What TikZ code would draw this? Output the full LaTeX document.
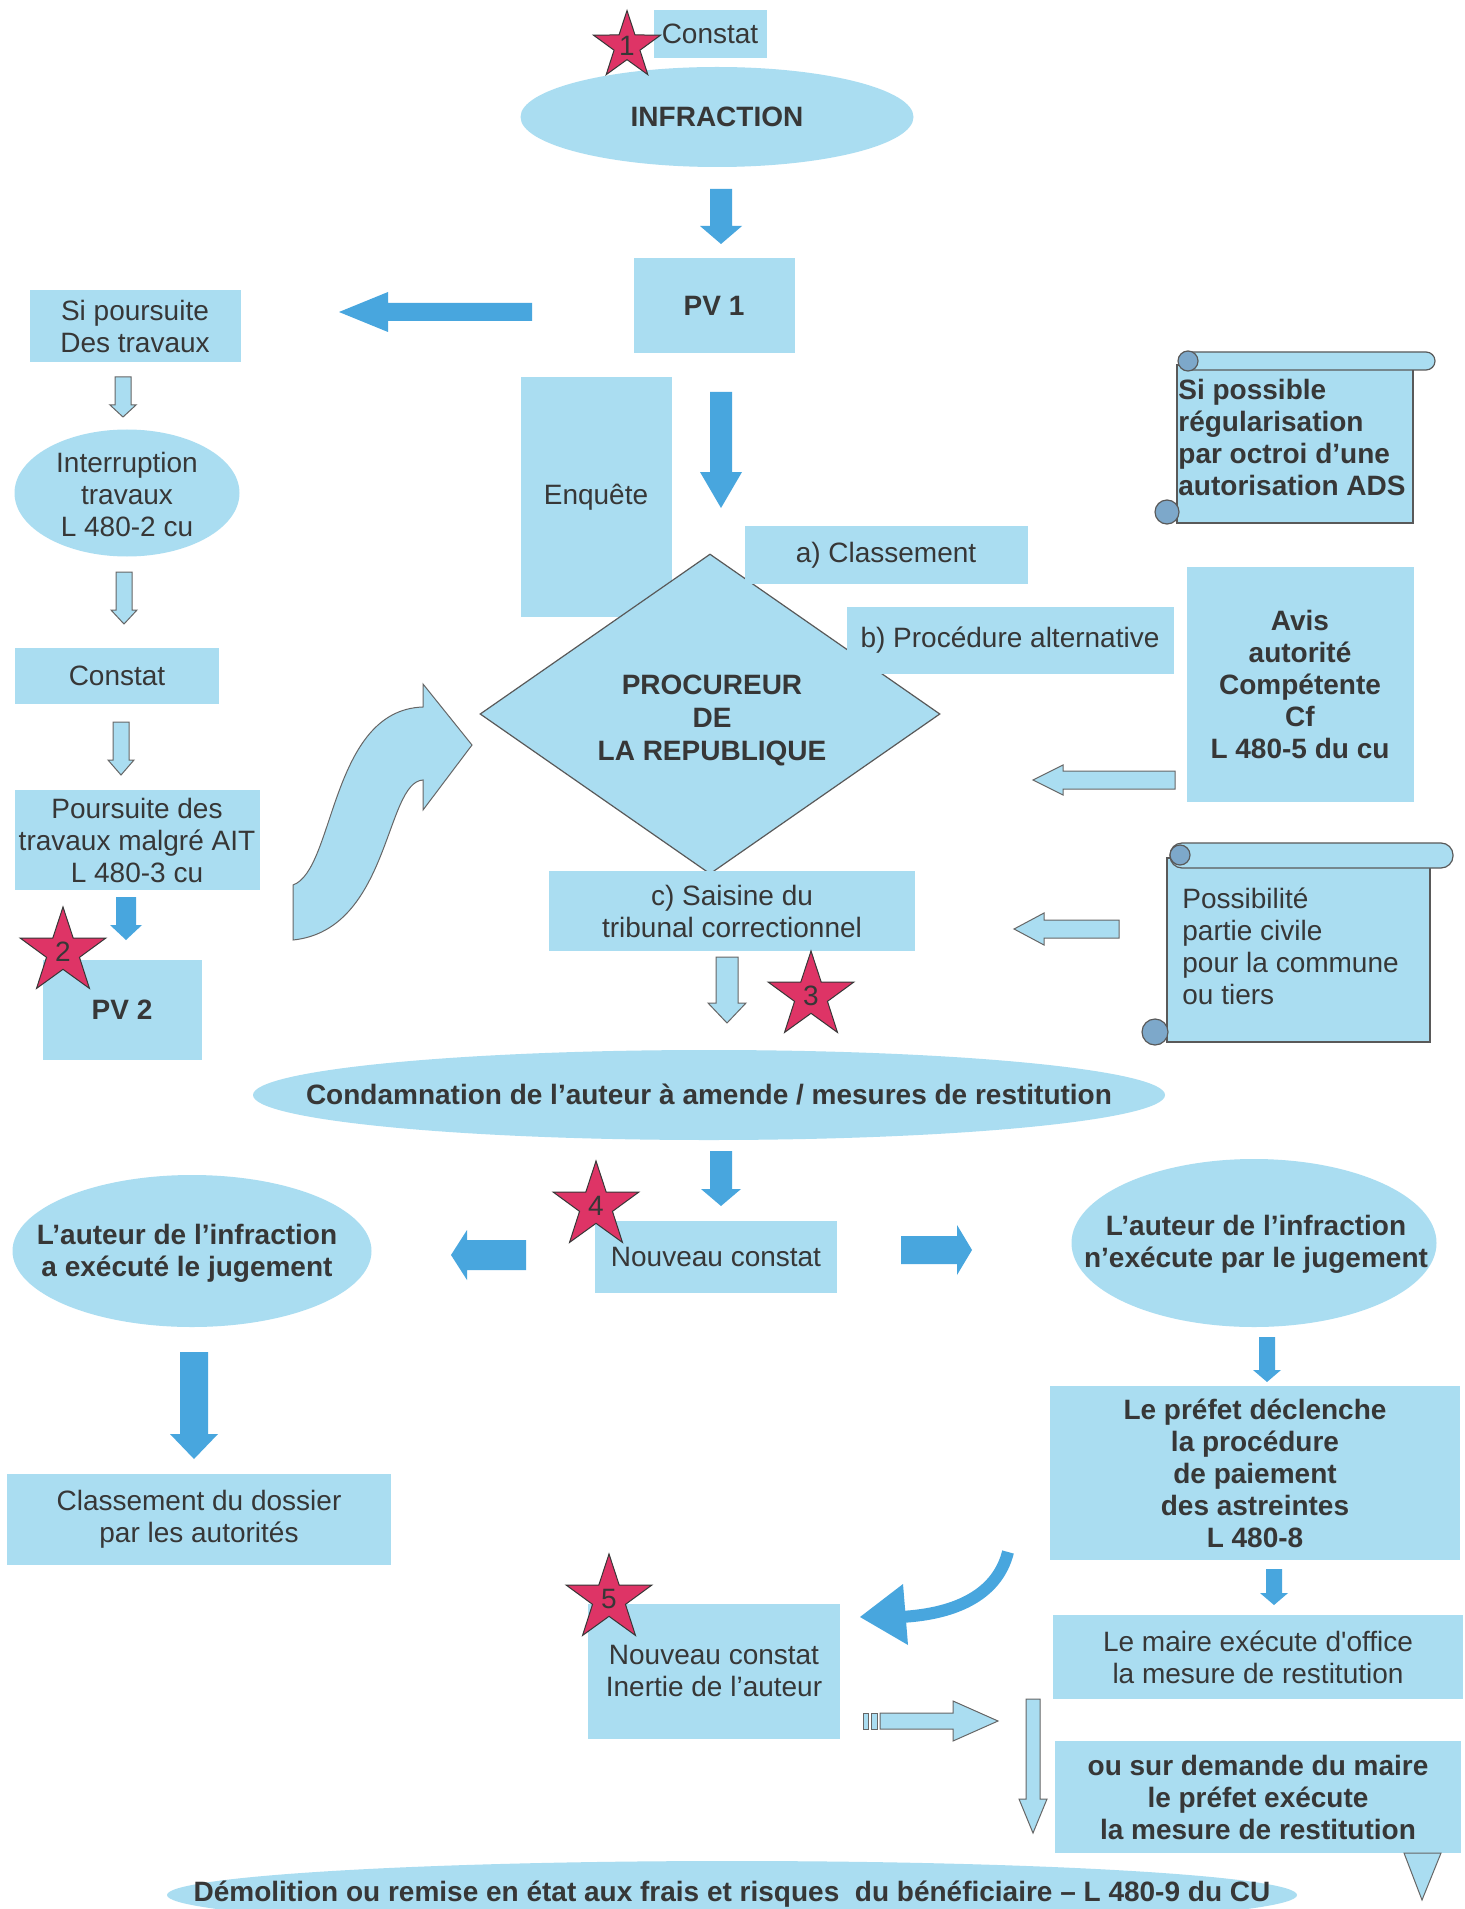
\documentclass[tikz,border=0pt]{standalone}
\usepackage{fontspec}
\setmainfont{Liberation Sans}
\usetikzlibrary{positioning}
\usetikzlibrary{shapes}

\definecolor{paleblue}{RGB}{170,221,241}
\definecolor{deepblue}{RGB}{72,166,222}
\definecolor{inkgray}{RGB}{55,55,55}
\definecolor{starred}{RGB}{222,52,102}
\definecolor{curlblue}{RGB}{125,168,202}

\tikzset{
  panel/.style={rectangle, fill=paleblue, inner sep=0pt, align=center, text=inkgray, font=\fontsize{14}{16}\selectfont},
  panelb/.style={panel, font=\fontsize{14}{16}\selectfont\bfseries},
  bubble/.style={ellipse, fill=paleblue, inner sep=0pt},
  txt/.style={align=center, text=inkgray, inner sep=0pt, font=\fontsize{14}{16}\selectfont},
  btxt/.style={txt, font=\fontsize{14}{16}\selectfont\bfseries},
  starmark/.style={star, star points=5, star point ratio=2.6, fill=starred, draw=inkgray, line width=0.5pt, inner sep=0pt, text=inkgray, font=\fontsize{14}{16}\selectfont},
  darkarr/.style={fill=deepblue},
  lightarr/.style={fill=paleblue, draw=gray!80!black, line width=0.5pt},
  scroll/.style={fill=paleblue, draw=gray!70!black, line width=0.6pt},
  curl/.style={fill=curlblue, draw=gray!70!black, line width=0.6pt},
  pics/barrow/.style n args={4}{code={
    \path[pic actions] (0,-#2) -- (#1-#4,-#2) -- (#1-#4,-#3) -- (#1,0)
      -- (#1-#4,#3) -- (#1-#4,#2) -- (0,#2) -- cycle;
  }}
}

\begin{document}
\begin{tikzpicture}[x=0.5pt, y=-0.5pt]
\useasboundingbox[fill=white] (0,0) rectangle (1465,1909);

%curved arrow back to the procureur
\filldraw[lightarr] (293,885) .. controls (335,870) and (330,710) .. (423,707)
  -- (423,684) -- (472,745) -- (423,810) -- (423,780)
  .. controls (385,782) and (390,930) .. (293,940) -- cycle;

%top
\node[panel, minimum width=56.5pt, minimum height=24pt] (constat1) at (710,34) {Constat};
\node[bubble, minimum width=196.5pt, minimum height=50pt] (infraction) at (717,117) {};
\node[btxt] (infractiont) at (infraction) {INFRACTION};
\node[panelb, minimum width=80.5pt, minimum height=47.5pt] (pv1) at (714,306) {PV 1};

%left column
\node[panel, minimum width=105.5pt, minimum height=36pt] (sipours) at (135,326) {Si poursuite\\Des travaux};
\node[bubble, minimum width=112.5pt, minimum height=63.5pt] (interr) at (127,493) {};
\node[txt] (interrt) at (127,494) {Interruption\\travaux\\L 480-2 cu};
\node[panel, minimum width=102pt, minimum height=28pt] (constat2) at (117,676) {Constat};
\node[panel, minimum width=122.5pt, minimum height=50pt] (poursuite) at (137,840) {Poursuite des\\travaux malgré AIT\\L 480-3 cu};
\node[panelb, minimum width=79.5pt, minimum height=50pt] (pv2) at (122,1010) {PV 2};

%procureur
\node[panel, minimum width=75.5pt, minimum height=119.5pt] (enquete) at (596,497) {Enquête};
\node[diamond, aspect=1.44, fill=paleblue, draw=gray!70!black, line width=0.6pt,
  minimum width=230pt, minimum height=160pt, inner sep=0pt] (procureur) at (710,714) {};
\node[btxt] (procureurt) at (712,720) {PROCUREUR\\[0.5pt]DE\\[0.5pt]LA REPUBLIQUE};
\node[panel, minimum width=141.5pt, minimum height=29pt] (classa) at (886,555) {a) Classement};
\node[panel, minimum width=163.5pt, minimum height=33.5pt] (procb) at (1010,640) {b) Procédure alternative};
\node[panel, minimum width=183pt, minimum height=40pt] (saisine) at (732,911) {c) Saisine du\\tribunal correctionnel};
\node[panelb, minimum width=113.5pt, minimum height=117.5pt] (avis) at (1300,684) {Avis\\autorité\\Compétente\\Cf\\L 480-5 du cu};

%scrolls
\filldraw[scroll] (1177,365) rectangle (1413,523);
\filldraw[scroll, rounded corners=4.5pt] (1180,352) rectangle (1435,370);
\filldraw[curl] (1188,361) circle (5pt);
\filldraw[curl] (1167,512) circle (6pt);
\node[btxt, anchor=west, align=left] (regul) at (1178,437) {Si possible\\régularisation\\par octroi d’une\\autorisation ADS};
\filldraw[scroll] (1167,858) rectangle (1430,1042);
\filldraw[scroll, rounded corners=6pt] (1170,843) rectangle (1453,868);
\filldraw[curl] (1180,855) circle (5pt);
\filldraw[curl] (1155,1032) circle (6.5pt);
\node[txt, anchor=west, align=left] (civile) at (1182,946) {Possibilité\\partie civile\\pour la commune\\ou tiers};

%jugement
\node[bubble, minimum width=456pt, minimum height=45pt] (condamn) at (709,1095) {};
\node[btxt] (condamnt) at (709,1095) {Condamnation de l’auteur à amende / mesures de restitution};
\node[panel, minimum width=121pt, minimum height=36pt] (nouveau) at (716,1257) {Nouveau constat};
\node[bubble, minimum width=179.5pt, minimum height=76pt] (execl) at (192,1251) {};
\node[btxt] (execlt) at (187,1253) {L’auteur de l’infraction\\a exécuté le jugement};
\node[bubble, minimum width=182.5pt, minimum height=84pt] (execr) at (1254,1243) {};
\node[btxt] (execrt) at (1256,1244) {L’auteur de l’infraction\\n’exécute par le jugement};
\node[panel, minimum width=192pt, minimum height=45.5pt] (dossier) at (199,1519) {Classement du dossier\\par les autorités};
\node[panelb, minimum width=205pt, minimum height=87pt] (prefet) at (1255,1473) {Le préfet déclenche\\la procédure\\de paiement\\des astreintes\\L 480-8};
\node[panel, minimum width=205pt, minimum height=42pt] (maire) at (1258,1657) {Le maire exécute d\textquotesingle office\\la mesure de restitution};
\node[panel, minimum width=126pt, minimum height=67.5pt] (inertie) at (714,1671) {Nouveau constat\\Inertie de l’auteur};
\node[panelb, minimum width=203pt, minimum height=56pt] (demande) at (1258,1797) {ou sur demande du maire\\le préfet exécute\\la mesure de restitution};
\node[bubble, minimum width=565pt, minimum height=34pt] (demol) at (732,1895) {};
\node[btxt] (demolt) at (732,1894) {Démolition ou remise en état aux frais et risques\ \ du bénéficiaire – L 480-9 du CU};

%block arrows
\pic[darkarr, rotate=-90] at (721,189) {barrow={55}{11}{21}{18}};
\pic[darkarr, rotate=180] at (532,312) {barrow={193}{9}{20}{49}};
\pic[darkarr, rotate=-90] at (721,392) {barrow={116}{11}{21}{36}};
\pic[lightarr, rotate=-90] at (123,377) {barrow={40}{8}{13}{12}};
\pic[lightarr, rotate=-90] at (124,572) {barrow={52}{8}{13}{14}};
\pic[lightarr, rotate=-90] at (121,722) {barrow={53}{8}{13}{15}};
\pic[darkarr, rotate=-90] at (126,897) {barrow={43}{10}{16}{15}};
\pic[lightarr, rotate=180] at (1175,780) {barrow={142}{9}{15}{30}};
\pic[lightarr, rotate=180] at (1119,929) {barrow={105}{9}{16}{30}};
\pic[lightarr, rotate=-90] at (727,957) {barrow={66}{11}{19}{20}};
\pic[darkarr, rotate=-90] at (721,1151) {barrow={55}{11}{20}{17}};
\pic[darkarr, rotate=180] at (526,1255) {barrow={75}{15}{25}{16}};
\pic[darkarr] at (901,1250) {barrow={71}{14}{25}{15}};
\pic[darkarr, rotate=-90] at (194,1352) {barrow={107}{14}{24}{25}};
\pic[darkarr, rotate=-90] at (1267,1337) {barrow={45}{8}{14}{12}};
\pic[darkarr, rotate=-90] at (1274,1569) {barrow={36}{8}{14}{12}};
\draw[lightarr] (863,1713) rectangle (868,1729);
\draw[lightarr] (871,1713) rectangle (877,1729);
\pic[lightarr] at (880,1721) {barrow={118}{8}{20}{45}};
\pic[lightarr, rotate=-90] at (1033,1699) {barrow={134}{7}{14}{34}};
\filldraw[lightarr] (1404,1853) -- (1441,1853) -- (1422,1900) -- cycle;
%curved arrow to inertie
\draw[deepblue, line width=6pt] (1008,1552) .. controls (998,1592) and (960,1614) .. (900,1617);
\fill[deepblue] (903,1584) -- (860,1617) -- (908,1645) -- cycle;

%stars
\node[starmark, minimum size=34pt] (star1) at (627,46) {1};
\node[starmark, minimum size=45pt] (star2) at (63,952) {2};
\node[starmark, minimum size=45pt] (star3) at (811,996) {3};
\node[starmark, minimum size=45pt] (star4) at (596,1206) {4};
\node[starmark, minimum size=45pt] (star5) at (609,1599) {5};

\end{tikzpicture}
\end{document}
